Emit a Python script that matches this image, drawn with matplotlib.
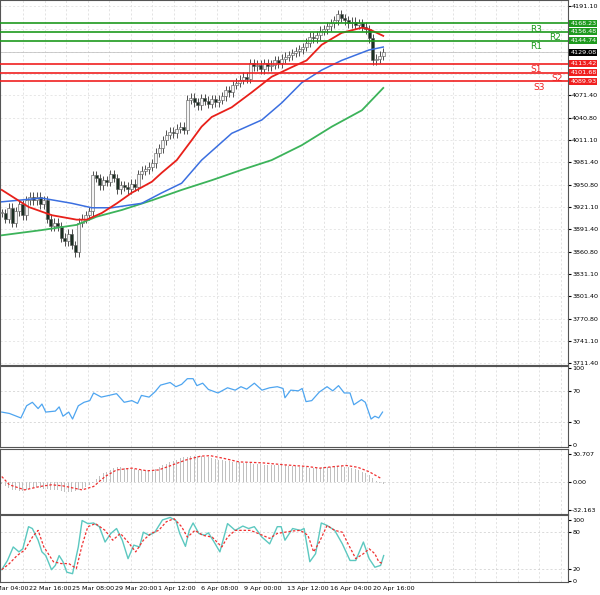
import matplotlib
matplotlib.use("Agg")
import matplotlib.pyplot as plt
import numpy as np

closes = [3913,3905,3920,3900,3915,3925,3910,3930,3935,
          3930,3935,3925,3930,
          3905,3895,3900,3895,
          3880,3875,3885,3870,3860,
          3900,3905,3910,3915,
          3964,3960,3950,3957,3955,
          3965,3960,3945,3950,
          3948,3945,3952,3948,
          3965,3970,3972,3975,
          3980,3994,4000,4011,
          4018,4022,4020,4026,4029,
          4025,4065,
          4068,4062,4058,4067,4064,4060,4066,4062,4065,
          4070,4078,4075,4085,4088,
          4092,4096,4093,
          4114,4110,4112,4106,4114,4110,4112,
          4118,4114,4120,4123,4125,4128,4130,4133,
          4136,4142,4150,4148,4152,4158,4160,
          4164,4168,4172,4180,
          4175,4172,4168,4170,4166,4168,
          4163,4160,4148,
          4118,4120,4124,4129.08]
wick = 6

ma_fast_x = [0,7.7,14.3,21.4,24.3,28.6,32.9,37.1,42.9,45.7,50,54.3,57.1,60,65.7,71.4,77.1,82.9,87.1,91.4,97.1,102.9,104.9,109]
ma_fast = [3944,3921,3910,3904,3904,3913,3926,3940,3955,3967,3984,4011,4029,4042,4055,4075,4096,4109,4118,4139,4155,4162,4160,4151]
ma_mid_x = [0,11.4,20,25.7,31.4,40,45.7,51.4,57.1,65.7,74.3,80,85.7,91.4,97.1,104.9,109]
ma_mid = [3928,3933,3926,3920,3920,3926,3940,3953,3984,4020,4038,4061,4088,4105,4118,4132,4136]
ma_slow_x = [0,11.4,21.4,27.1,34.3,42.9,51.4,60,68.6,77.1,85.7,94.3,102.9,109]
ma_slow = [3883,3890,3897,3908,3917,3930,3944,3957,3971,3984,4004,4029,4051,4081]

levels = [4168.23,4156.48,4144.74,4113.42,4101.68,4089.93]
level_names = ["R3","R2","R1","S1","S2","S3"]

rsi_zx = [0,20,50,65,80,95,105,115,140,150,160,175,185,200,215,230,240,260,280,300,320,340,355,365,385,400,415,440,455,470,485,500,510,525,540,565,590,610,625,640,660,680,700,720,735,740,755,775,785,795,810,830,850,865,880,895,910,920,940,950,965,975,985,995]
rsi = [42.7,40.9,35,51,55.5,47.3,53.2,42.7,44,49.5,37.3,42.7,33.6,50.9,55.5,57.7,67.7,62.3,64.5,66.8,55.5,57.7,54,64.5,62.3,69,78,81.4,75.9,79,86.4,86.4,77.3,80.5,72.3,67.7,74.5,71.4,75.9,72.7,80.5,71.4,74.5,75.9,73.6,61.4,71.4,70.5,73.6,56.4,57.7,69,75.9,70.5,77.3,67.7,67.7,52.3,59,55.5,33.6,37.3,35,42.7]

macd_hist = [-3,-5,-7,-9,-10,-11,
             -11,-10,-8,-7,-6,-7,-8,
             -8,-9,-10,-10,-11,-12,-12,-12,
             -11,-10,-8,-6,-4,-2,
             3,6,9,11,13,15,
             16,16,15,15,14,14,13,13,13,13,13,
             14,16,18,20,22,23,24,
             26,27,28,29,29,29,29,28,
             27,26,25,24,24,23,23,22,22,22,21,21,
             21,20,20,20,19,19,19,18,18,18,18,17,17,17,16,
             16,16,15,15,15,15,16,16,16,17,17,17,16,16,
             15,14,13,11,9,7,4,1,-2,-3]
sig_zx = [0,20,60,100,130,160,210,240,270,300,340,380,410,440,480,520,545,580,620,680,740,800,830,870,900,930,960,990]
macd_sig = [5.6,-3.7,-9.4,-5.6,-3.7,-4.9,-9.4,-5.6,5.6,13,15,12,13,17.6,24,28.5,29,26,22,21,18.7,16.8,15,16.8,18,16,11,3.7]

st_zx = [0,15,30,45,55,70,80,95,105,115,130,140,150,160,170,185,200,210,225,240,255,270,285,300,315,330,345,360,370,385,400,420,440,455,465,480,490,500,515,530,540,555,570,590,610,630,645,660,680,700,720,730,740,760,780,790,805,820,835,850,870,890,910,925,945,960,975,990,998]
stoch_main = [19,34,56,48,53,89,86,67,48,42,19,26,42,32,15,12.5,56,99,94,95,89,64,78,86,67,37,59,56,80,75,80,100,104,99,78,57,83,95,78,75,79,64,48,94,83,90,86,89,72,61,89,89,67,86,83,86,32,45,95,91,83,61,34,34,64,37,23,26,42]
ss_zx = [0,20,40,60,80,95,110,135,155,175,195,210,225,245,270,290,310,330,350,370,390,410,430,450,470,485,505,525,550,575,590,610,630,650,670,700,720,740,760,780,800,815,830,850,870,890,905,925,945,960,975,985,995]
stoch_sig = [19,29,42,51,72,83,56,32,29,29,21,59,89,94,83,67,78,64,48,67,78,83,97,102,89,72,83,75,72,56,72,83,83,83,78,70,78,80,82,83,75,48,64,91,83,80,61,37,45,53,45,32,29]

tick_pos = [-4.5,7.7,20,32.3,44.6,56.8,69.1,81.4,93.7,106]
tick_labels = ["19 Mar 04:00","22 Mar 16:00","25 Mar 08:00","29 Mar 20:00","1 Apr 12:00",
               "6 Apr 08:00","9 Apr 00:00","13 Apr 12:00","16 Apr 04:00","20 Apr 16:00"]
price_ticks = [4191.10,4160.50,4129.08,4100.20,4071.40,4040.80,4011.10,3981.40,3950.80,3921.10,3891.40,3860.80,3831.10,3801.40,3770.80,3741.10,3711.40]

PX = 3.5
W = 568/PX
fig = plt.figure(figsize=(6,5.95), dpi=100)
fs = 4.6

def mk(bottom, h):
    ax = fig.add_axes([0, bottom, 568/600, h])
    ax.set_xlim(-0.5, W-0.5)
    ax.yaxis.tick_right()
    ax.tick_params(axis='y', labelsize=fs, length=2, pad=1)
    ax.tick_params(axis='x', length=0, labelbottom=False)
    for s in ax.spines.values():
        s.set_color('#555555'); s.set_linewidth(0.8)
    for v in np.arange(6.1, W, 43/PX/2):
        ax.axvline(v, color='#d8d8d8', lw=0.5, ls=(0,(3,3)), zorder=0)
    return ax

ax = mk(1-365/595, 365/595)
ax.set_ylim(3708.7, 4199.2)
shown = [t for t in price_ticks if t not in (4160.50,4129.08,4100.20)]
ax.set_yticks(shown)
ax.set_yticklabels(["%.2f" % t for t in shown])
for t in price_ticks:
    ax.axhline(t, color='#dddddd', lw=0.5, ls=(0,(3,3)), zorder=0)
opens = [closes[0]] + closes[:-1]
for i,(o,c) in enumerate(zip(opens, closes)):
    hi = max(o,c)+wick; lo = min(o,c)-wick
    ax.vlines(i, lo, hi, color='#333333', lw=0.6, zorder=3)
    ax.bar(i, max(abs(c-o),0.8), bottom=min(o,c), width=0.75,
           color='#f4f4f4' if c>=o else '#1b2e22', edgecolor='#555555', lw=0.4, zorder=4)
ax.plot(ma_slow_x, ma_slow, color='#3cb35a', lw=1.3, zorder=5)
ax.plot(ma_mid_x, ma_mid, color='#3b6fe0', lw=1.1, zorder=5)
ax.plot(ma_fast_x, ma_fast, color='#e8201a', lw=1.3, zorder=5)
lab_x = [151, 156.5, 151, 151, 157, 152]
for lv, nm, lx in zip(levels, level_names, lab_x):
    col = '#1e9a1e' if nm[0]=='R' else '#f02020'
    ax.axhline(lv, color=col, lw=1.2, zorder=6)
    ax.text(lx, lv-2, nm, color=col, fontsize=6.5, va='top', ha='left')
    ax.text(1.004, lv, "%.2f" % lv, transform=ax.get_yaxis_transform(), fontsize=fs,
            color='white', va='center', ha='left',
            bbox=dict(boxstyle='square,pad=0.15', fc=col, ec='none'))
ax.axhline(4129.08, color='#bbbbbb', lw=0.5)
ax.text(1.004, 4129.08, "4129.08", transform=ax.get_yaxis_transform(), fontsize=fs,
        color='white', va='center', ha='left',
        bbox=dict(boxstyle='square,pad=0.15', fc='black', ec='none'))

ar = mk(1-447/595, 81/595)
ar.set_ylim(-3, 103)
ar.set_yticks([0,30,70,100])
for t in [30,70]:
    ar.axhline(t, color='#cccccc', lw=0.5, ls=(0,(3,3)))
ar.plot(np.array(rsi_zx)/2.613/PX, rsi, color='#4ea5f0', lw=0.9)

am = mk(1-514/595, 65/595)
am.set_ylim(-36.5, 36.5)
am.set_yticks([30.707, 0, -32.163])
am.set_yticklabels(["30.707","0.00","-32.163"])
am.axhline(0, color='#cccccc', lw=0.5, ls=(0,(3,3)))
am.bar(np.arange(len(macd_hist)), macd_hist, width=0.35, color='#c0c0c0')
am.plot(np.array(sig_zx)/2.613/PX, macd_sig, color='#f03030', lw=0.9, ls=(0,(2,1.5)))

ast = mk(1-582/595, 67/595)
ast.set_ylim(-1, 108)
ast.set_yticks([0,20,80,100])
for t in [20,80]:
    ast.axhline(t, color='#cccccc', lw=0.5, ls=(0,(3,3)))
ast.plot(np.array(st_zx)/2.613/PX, stoch_main, color='#5cc8c0', lw=1.0)
ast.plot(np.array(ss_zx)/2.613/PX, stoch_sig, color='#f03030', lw=0.9, ls=(0,(2,1.5)))
for p, l in zip(tick_pos, tick_labels):
    ast.text(p, -0.06, l, transform=ast.get_xaxis_transform(), fontsize=fs, ha='left', va='top', clip_on=False)

fig.savefig("out.png", dpi=100, facecolor='white')
